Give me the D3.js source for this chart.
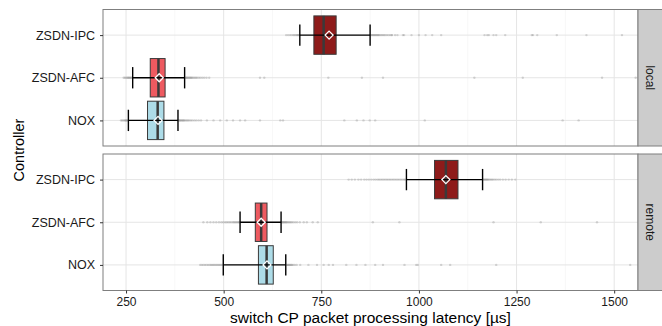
<!DOCTYPE html>
<html>
<head>
<meta charset="utf-8">
<script src="https://cdn.jsdelivr.net/npm/d3@7"></script>
<style>
  html, body { margin: 0; padding: 0; background: #fff; }
  svg { display: block; font-family: "Liberation Sans", Arial, sans-serif; }
</style>
</head>
<body>
<svg id="chart" width="662" height="326"></svg>
<script>
// ---- data ----
const controllers = ["ZSDN-IPC", "ZSDN-AFC", "NOX"];
const panels = ["local", "remote"];
const xTicks = [250, 500, 750, 1000, 1250, 1500];
const xMinor = [375, 625, 875, 1125, 1375];
const boxColors = ["#8E1B1A", "#EE5A60", "#ADDCE8"];

// stats per controller: [lowerWhisker, q1, median, q3, upperWhisker, mean]
const localStats = [
  [695, 731, 756, 788, 875, 770],
  [267, 312, 333, 350, 400, 335],
  [256, 305, 331, 347, 383, 332]
];
const remoteStats = [
  [968, 1040, 1069, 1100, 1163, 1069],
  [542, 581, 596, 611, 647, 596],
  [499, 589, 610, 627, 659, 611]
];

const localOutIPC = [660, 665, 670, 674, 678, 681, 684, 687, 689, 691, 693,
  877, 879, 881, 883, 885, 887, 889, 891, 893, 895, 897, 899, 902, 905, 908, 911, 914, 918, 922, 926, 930,
  931, 939, 945, 959, 962, 981, 1000, 1017, 1034, 1057, 1168, 1175, 1179, 1191, 1198, 1221, 1289, 1292, 1303, 1353, 1429, 1520];
const localOutAFC = [244, 247, 250, 253, 255, 257, 259, 261, 263, 265,
  402, 404, 406, 408, 410, 412, 414, 416, 418, 420, 423, 426, 429, 432, 436, 440, 445, 450, 456, 463,
  593, 604, 768, 854, 908, 1142, 1266, 1469, 1555];
const localOutNOX = [237, 240, 243, 246, 248, 250, 252, 254,
  384, 386, 388, 390, 392, 394, 396, 398, 400, 403, 406, 409, 412, 416, 420, 425, 430, 436, 442,
  457, 474, 491, 508, 524, 542, 555, 593, 645, 652, 809, 841, 858, 874, 888, 1015, 1368, 1409];
const remoteOutIPC = [820, 828, 836, 845, 852, 860, 866, 872, 878, 884, 889, 894, 898, 902, 906, 910, 914, 918, 922, 926, 930, 934, 938, 942, 946, 950, 954, 958, 962, 965,
  1164, 1166, 1168, 1170, 1172, 1174, 1176, 1178, 1181, 1184, 1187, 1190, 1194, 1198, 1203, 1208, 1215, 1222, 1230, 1238, 1247];
const remoteOutAFC = [448, 458, 466, 474, 481, 488, 494, 499, 504, 508, 512, 516, 520, 524, 527, 530, 533, 536, 539, 541,
  648, 650, 652, 654, 656, 658, 660, 662, 665, 668, 671, 674, 678, 683, 688, 695, 705, 713, 728, 741,
  882, 950, 1191, 1312, 1456];
const remoteOutNOX = [440, 444, 448, 452, 456, 460, 464, 467, 470, 473, 476, 479, 482, 485, 488, 491, 494, 497,
  661, 663, 665, 667, 669, 671, 673, 675, 678, 682, 687, 696, 717, 739, 756, 769, 780,
  814, 840, 863, 888, 908, 963, 993, 997, 1057, 1080, 1198, 1541];

const statsByPanel = [localStats, remoteStats];
const outByPanel = [[localOutIPC, localOutAFC, localOutNOX], [remoteOutIPC, remoteOutAFC, remoteOutNOX]];

// ---- layout ----
const svg = d3.select("#chart");
const left = 103, right = 638;
const panelTops = [9.5, 154];
const panelH = 136.5;
const stripW = 26;

const x = d3.scaleLinear().domain([191, 1561]).range([left, right]);

panels.forEach((p, pi) => {
  const top = panelTops[pi];
  const y = d3.scalePoint().domain(controllers).range([top, top + panelH]).padding(0.6);
  const step = y.step();
  const g = svg.append("g");

  g.append("rect").attr("x", left).attr("y", top).attr("width", right - left).attr("height", panelH)
    .attr("fill", "#fff");
  g.selectAll(".minor").data(xMinor).join("line")
    .attr("x1", d => x(d)).attr("x2", d => x(d)).attr("y1", top).attr("y2", top + panelH)
    .attr("stroke", "#f2f2f2").attr("stroke-width", 0.6);
  g.selectAll(".major").data(xTicks).join("line")
    .attr("x1", d => x(d)).attr("x2", d => x(d)).attr("y1", top).attr("y2", top + panelH)
    .attr("stroke", "#e5e5e5").attr("stroke-width", 1);
  g.selectAll(".hgrid").data(controllers).join("line")
    .attr("x1", left).attr("x2", right).attr("y1", d => y(d)).attr("y2", d => y(d))
    .attr("stroke", "#e5e5e5").attr("stroke-width", 1);

  const stats = statsByPanel[pi];
  const outs = outByPanel[pi];

  controllers.forEach((c, ci) => {
    const cy = y(c);
    const [lw, q1, med, q3, uw, mean] = stats[ci];
    g.append("g").selectAll("circle").data(outs[ci]).join("circle")
      .attr("cx", d => x(d)).attr("cy", cy).attr("r", 1.2)
      .attr("fill", "#808080").attr("fill-opacity", 0.3);
    const bh = step * 0.9;
    g.append("rect")
      .attr("x", x(q1)).attr("y", cy - bh / 2).attr("width", x(q3) - x(q1)).attr("height", bh)
      .attr("fill", boxColors[ci]).attr("stroke", "#3a3a3a").attr("stroke-width", 1);
    g.append("line").attr("x1", x(med)).attr("x2", x(med)).attr("y1", cy - bh / 2).attr("y2", cy + bh / 2)
      .attr("stroke", "#3a3a3a").attr("stroke-width", 2.5);
    const cap = step * 0.25;
    g.append("line").attr("x1", x(lw)).attr("x2", x(uw)).attr("y1", cy).attr("y2", cy)
      .attr("stroke", "#000").attr("stroke-width", 1.4);
    [lw, uw].forEach(v => {
      g.append("line").attr("x1", x(v)).attr("x2", x(v)).attr("y1", cy - cap).attr("y2", cy + cap)
        .attr("stroke", "#000").attr("stroke-width", 1.4);
    });
    const r = 4;
    const mx = x(mean);
    g.append("path")
      .attr("d", `M${mx},${cy - r}L${mx + r},${cy}L${mx},${cy + r}L${mx - r},${cy}Z`)
      .attr("fill", "none").attr("stroke", "#fff").attr("stroke-width", 1.3);
  });

  g.append("rect").attr("x", left).attr("y", top).attr("width", right - left).attr("height", panelH)
    .attr("fill", "none").attr("stroke", "#7f7f7f").attr("stroke-width", 1);

  g.append("rect").attr("x", right).attr("y", top).attr("width", stripW).attr("height", panelH)
    .attr("fill", "#cccccc").attr("stroke", "#7f7f7f").attr("stroke-width", 1);
  g.append("text")
    .attr("transform", `translate(${right + 12},${top + panelH / 2}) rotate(90)`)
    .attr("text-anchor", "middle").attr("dominant-baseline", "central")
    .attr("font-size", 12).attr("fill", "#1a1a1a").text(p);

  const yAxis = d3.axisLeft(y).tickSize(3).tickPadding(5);
  const ya = g.append("g").attr("transform", `translate(${left},0)`).call(yAxis);
  ya.select(".domain").remove();
  ya.selectAll("line").attr("stroke", "#333");
  ya.selectAll("text").attr("font-size", 12.5).attr("fill", "#1a1a1a")
    .attr("font-family", "Liberation Sans, Arial, sans-serif");

  if (pi === 1) {
    const xAxis = d3.axisBottom(x).tickValues(xTicks).tickSize(3).tickPadding(4).tickFormat(d3.format("d"));
    const xa = g.append("g").attr("transform", `translate(0,${top + panelH})`).call(xAxis);
    xa.select(".domain").remove();
    xa.selectAll("line").attr("stroke", "#333");
    xa.selectAll("text").attr("font-size", 12).attr("fill", "#1a1a1a")
      .attr("font-family", "Liberation Sans, Arial, sans-serif");
  }
});

svg.append("text")
  .attr("transform", `translate(24,150) rotate(-90)`)
  .attr("text-anchor", "middle").attr("font-size", 14.5).attr("fill", "#000")
  .text("Controller");
svg.append("text")
  .attr("x", (left + right) / 2).attr("y", 322.5)
  .attr("text-anchor", "middle").attr("font-size", 15.5).attr("fill", "#000")
  .text("switch CP packet processing latency [µs]");
</script>
</body>
</html>
